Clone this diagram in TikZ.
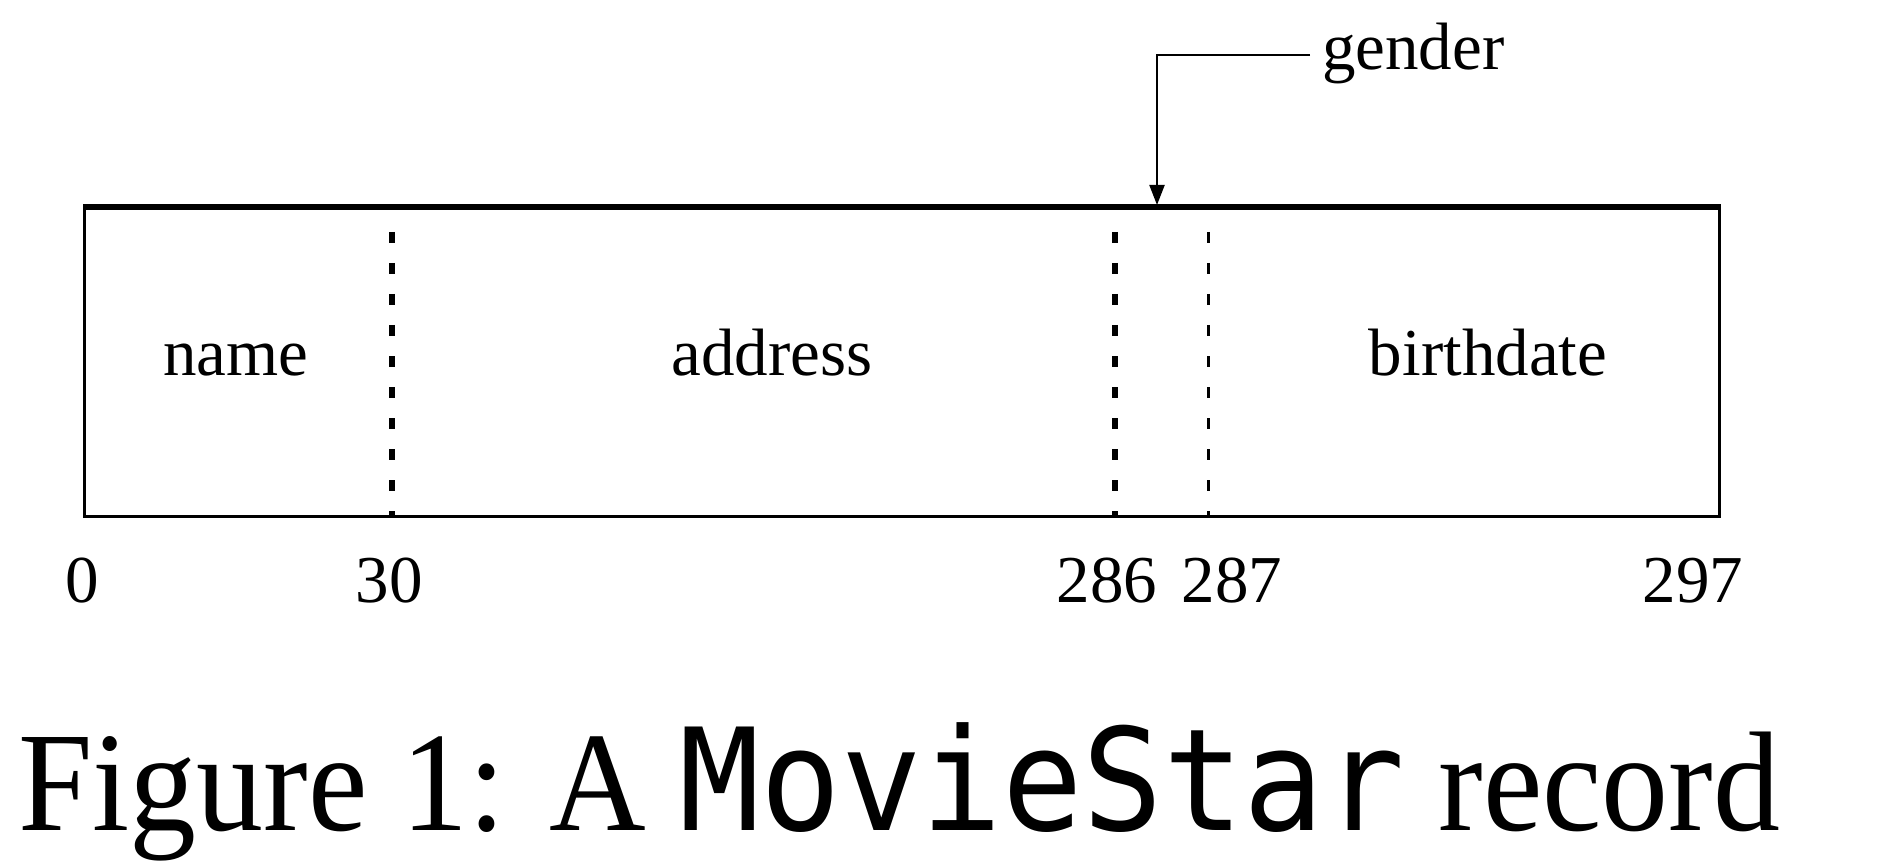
\documentclass[tikz,border=0pt]{standalone}
\usepackage{fontspec}
\setmainfont{Liberation Serif}
\setmonofont{DejaVu Sans Mono}
\usetikzlibrary{arrows.meta}
\begin{document}
\begin{tikzpicture}[x=1pt,y=-1pt,
  lbl/.style={anchor=base,inner sep=0pt,font=\fontsize{67}{80}\selectfont},
  septhick/.style={line width=6pt,dash pattern=on 11pt off 20pt},
  septhin/.style={line width=3pt,dash pattern=on 11pt off 20pt},
  pointer/.style={line width=2pt,-{Triangle[length=20pt,width=15pt]}}]
\useasboundingbox (0,0) rectangle (1886,866);
% record box
\node[draw,line width=3pt,minimum width=1635pt,minimum height=308pt,inner sep=0pt,anchor=north west] (rec) at (83,207) {};
\draw[line width=5pt] (rec.north west) -- (rec.north east);
% field separators
\draw[septhick] (392,232) -- (392,515);
\draw[septhick] (1115,232) -- (1115,515);
\draw[septhin] (1208,232) -- (1208,515);
% field labels
\node[lbl] (name) at (236,375) {name};
\node[lbl] (address) at (772,375) {address};
\node[lbl] (birth) at (1488,375) {birthdate};
% offsets
\node[lbl] (o0) at (82,602) {0};
\node[lbl] (o30) at (389,602) {30};
\node[lbl] (o286) at (1107,602) {286};
\node[lbl] (o287) at (1232,602) {287};
\node[lbl] (o297) at (1693,602) {297};
% gender pointer
\node[lbl,anchor=base west] (gender) at (1322,70) {gender};
\coordinate (gtip) at (1157,205);
\draw[pointer] ([xshift=-12pt,yshift=-1pt]gender.west) -| (gtip);
% caption
\node[anchor=base west,inner sep=0pt] (cap) at (18,830) {\resizebox{1762pt}{\height}{\fontsize{142}{170}\selectfont Figure 1: A \texttt{MovieStar} record}};
\end{tikzpicture}
\end{document}
